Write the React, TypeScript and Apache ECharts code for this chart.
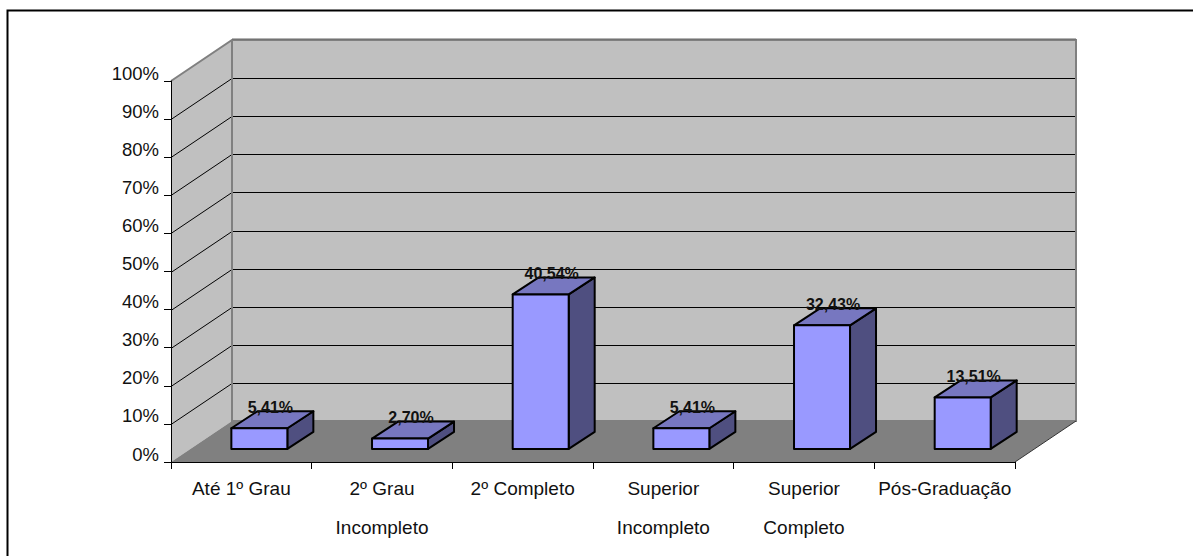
import React, { useEffect, useRef } from "react";
import * as echarts from "echarts";

// Escolaridade: share of respondents per education level
const categories = [
  "Até 1º Grau",
  "2º Grau\nIncompleto",
  "2º Completo",
  "Superior\nIncompleto",
  "Superior\nCompleto",
  "Pós-Graduação",
];
const shares = [5.41, 2.7, 40.54, 5.41, 32.43, 13.51];
const gridTicks = [0, 10, 20, 30, 40, 50, 60, 70, 80, 90, 100];

// Oblique projection of the chart box and the bars inside it
const BOX_DX = 61;
const BOX_DY = 41;
const BAR_FRONT = 0.32; // bar front face, as a fraction of box depth
const BAR_DX = 26;
const BAR_DY = 17;
const BAR_WIDTH = 56;
const FONT = '"Liberation Sans", Arial, sans-serif';

const WALL = "#C0C0C0";
const FLOOR = "#808080";
const EDGE = "#808080";
const BAR_FACE = "#9999FF";
const BAR_TOP = "#7777C0";
const BAR_SIDE = "#4F4F80";

function renderBox(params: any, api: any) {
  const cs = params.coordSys;
  const xL = cs.x;
  const xR = cs.x + cs.width;
  const y0 = api.coord([0, 0])[1];
  const y100 = api.coord([0, 100])[1];
  const children: any[] = [
    {
      type: "polygon",
      shape: { points: [[xL, y0], [xL + BOX_DX, y0 - BOX_DY], [xL + BOX_DX, y100 - BOX_DY], [xL, y100]] },
      style: { fill: WALL },
    },
    {
      type: "polygon",
      shape: { points: [[xL + BOX_DX, y0 - BOX_DY], [xR + BOX_DX, y0 - BOX_DY], [xR + BOX_DX, y100 - BOX_DY], [xL + BOX_DX, y100 - BOX_DY]] },
      style: { fill: WALL },
    },
    {
      type: "polygon",
      shape: { points: [[xL, y0], [xR, y0], [xR + BOX_DX, y0 - BOX_DY], [xL + BOX_DX, y0 - BOX_DY]] },
      style: { fill: FLOOR },
    },
  ];
  gridTicks.forEach((t) => {
    if (t === 0 || t === 100) return;
    const y = Math.round(api.coord([0, t])[1]) + 0.5;
    children.push({
      type: "polyline",
      shape: { points: [[xL, y], [xL + BOX_DX, y - BOX_DY], [xR + BOX_DX, y - BOX_DY]] },
      style: { fill: "none", stroke: "#000", lineWidth: 1 },
    });
  });
  const edge = { fill: "none", stroke: EDGE, lineWidth: 2 };
  children.push(
    {
      type: "polyline",
      shape: { points: [[xL, y100], [xL + BOX_DX, y100 - BOX_DY], [xR + BOX_DX, y100 - BOX_DY], [xR + BOX_DX, y0 - BOX_DY], [xL + BOX_DX, y0 - BOX_DY], [xL + BOX_DX, y100 - BOX_DY]] },
      style: edge,
    },
    {
      type: "line",
      shape: { x1: xL + BOX_DX, y1: y100 - BOX_DY - 1, x2: xR + BOX_DX, y2: y100 - BOX_DY - 1 },
      style: { stroke: "#666", lineWidth: 1 },
    },
    {
      type: "line",
      shape: { x1: xR, y1: y0, x2: xR + BOX_DX, y2: y0 - BOX_DY },
      style: { stroke: "#333", lineWidth: 1 },
    },
  );
  return { type: "group", silent: true, children };
}

function renderBar(_params: any, api: any) {
  const value = api.value(1);
  const base = api.coord([api.value(0), 0]);
  const top = api.coord([api.value(0), value]);
  const cx = base[0] + BOX_DX * BAR_FRONT - 1.5;
  const shiftY = BOX_DY * BAR_FRONT;
  const l = cx - BAR_WIDTH / 2;
  const r = cx + BAR_WIDTH / 2;
  const yB = base[1] - shiftY;
  const yT = top[1] - shiftY;
  const line = { stroke: "#000", lineWidth: 2, lineJoin: "round" };
  return {
    type: "group",
    silent: true,
    children: [
      {
        type: "polygon",
        shape: { points: [[r, yB], [r + BAR_DX, yB - BAR_DY], [r + BAR_DX, yT - BAR_DY], [r, yT]] },
        style: { fill: BAR_SIDE, ...line },
      },
      {
        type: "polygon",
        shape: { points: [[l, yT], [r, yT], [r + BAR_DX, yT - BAR_DY], [l + BAR_DX, yT - BAR_DY]] },
        style: { fill: BAR_TOP, ...line },
      },
      {
        type: "rect",
        shape: { x: l, y: yT, width: BAR_WIDTH, height: yB - yT },
        style: { fill: BAR_FACE, ...line },
      },
      {
        type: "text",
        x: cx + 11,
        y: yT - BAR_DY - 4,
        style: {
          text: value.toFixed(2).replace(".", ",") + "%",
          font: `bold 16px ${FONT}`,
          fill: "#111",
          align: "center",
          verticalAlign: "middle",
        },
      },
    ],
  };
}

export default function App() {
  const ref = useRef<HTMLDivElement>(null);

  useEffect(() => {
    const chart = echarts.init(ref.current!, undefined, { renderer: "svg" });
    chart.setOption({
      animation: false,
      backgroundColor: "#fff",
      grid: { left: 171, top: 81, right: 178, bottom: 94 },
      xAxis: {
        type: "category",
        data: categories,
        z: 5,
        axisLine: { lineStyle: { color: "#000", width: 1 } },
        axisTick: { show: true, length: 7, lineStyle: { color: "#000" } },
        axisLabel: {
          interval: 0,
          margin: 7,
          color: "#111",
          fontFamily: FONT,
          fontSize: 19,
          lineHeight: 39,
        },
      },
      yAxis: {
        type: "value",
        min: 0,
        max: 100,
        interval: 10,
        z: 5,
        splitLine: { show: false },
        axisLine: { show: true, lineStyle: { color: "#000", width: 1 } },
        axisTick: { show: true, length: 7, lineStyle: { color: "#000" } },
        axisLabel: {
          margin: 12,
          color: "#111",
          fontFamily: FONT,
          fontSize: 18.5,
          formatter: "{value}%",
          verticalAlign: "bottom",
          lineHeight: 16,
        },
      },
      series: [
        {
          type: "custom",
          z: 1,
          renderItem: renderBox,
          data: [[0, 0]],
          encode: { x: 0, y: 1 },
          silent: true,
        },
        {
          type: "custom",
          z: 3,
          renderItem: renderBar,
          data: shares.map((v, i) => [i, v]),
          encode: { x: 0, y: 1 },
          silent: true,
        },
      ],
      graphic: [
        {
          type: "polyline",
          silent: true,
          shape: { points: [[7.5, 556], [7.5, 10.5], [1193, 10.5]] },
          style: { fill: "none", stroke: "#000", lineWidth: 2 },
        },
      ],
    });
    return () => chart.dispose();
  }, []);

  return (
    <div
      ref={ref}
      style={{ position: "absolute", left: 0, top: 0, width: 1193, height: 556 }}
    />
  );
}
